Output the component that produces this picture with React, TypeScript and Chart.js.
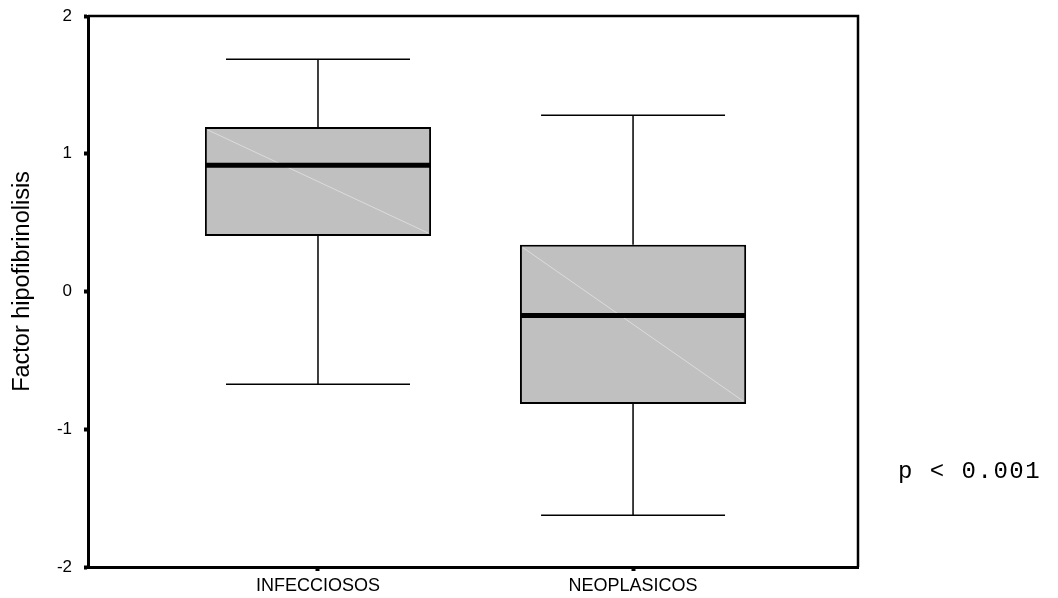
import React, { useEffect, useRef } from 'react';
import { Chart, registerables } from 'chart.js';

Chart.register(...registerables);

const categories = ['INFECCIOSOS', 'NEOPLASICOS'];
const categoryPositions = [1, 2];
const whiskerLow = [-0.674, -1.625];
const q1 = [0.403, -0.817];
const median = [0.916, -0.175];
const q3 = [1.194, 0.34];
const whiskerHigh = [1.686, 1.279];
const yTicks = [-2, -1, 0, 1, 2];
const yTitle = 'Factor hipofibrinolisis';
const pValueText = 'p < 0.001';

const SANS = '"Liberation Sans", Arial, sans-serif';
const MONO = '"Liberation Mono", "Courier New", monospace';

const boxPlugin = {
  id: 'boxParts',
  afterDatasetsDraw(chart: any) {
    const { ctx, scales } = chart;
    const x = scales.x;
    const y = scales.y;
    const meta = chart.getDatasetMeta(0);
    const capHalf = (x.getPixelForValue(2) - x.getPixelForValue(1)) * 0.584 / 2;
    ctx.save();
    meta.data.forEach((bar: any, i: number) => {
      const props = bar.getProps(['x', 'width'], true);
      const cx = props.x;
      const left = cx - props.width / 2;
      const right = cx + props.width / 2;
      const top = y.getPixelForValue(q3[i]);
      const bottom = y.getPixelForValue(q1[i]);
      // faint diagonal artefact
      ctx.strokeStyle = '#dcdcdc';
      ctx.lineWidth = 1;
      ctx.beginPath();
      ctx.moveTo(left + 3, top + 3);
      ctx.lineTo(right - 3, bottom - 3);
      ctx.stroke();
      // median
      const my = y.getPixelForValue(median[i]);
      ctx.strokeStyle = '#000';
      ctx.lineWidth = 5;
      ctx.beginPath();
      ctx.moveTo(left + 1, my);
      ctx.lineTo(right - 1, my);
      ctx.stroke();
      // whiskers
      const hi = y.getPixelForValue(whiskerHigh[i]);
      const lo = y.getPixelForValue(whiskerLow[i]);
      ctx.lineWidth = 1.5;
      ctx.beginPath();
      ctx.moveTo(cx, top);
      ctx.lineTo(cx, hi);
      ctx.moveTo(cx - capHalf, hi);
      ctx.lineTo(cx + capHalf, hi);
      ctx.moveTo(cx, bottom);
      ctx.lineTo(cx, lo);
      ctx.moveTo(cx - capHalf, lo);
      ctx.lineTo(cx + capHalf, lo);
      ctx.stroke();
    });
    ctx.restore();
  },
  afterDraw(chart: any) {
    const { ctx, chartArea } = chart;
    ctx.save();
    // top and right frame
    ctx.strokeStyle = '#000';
    ctx.lineWidth = 2.5;
    ctx.beginPath();
    ctx.moveTo(chartArea.left, chartArea.top);
    ctx.lineTo(chartArea.right, chartArea.top);
    ctx.lineTo(chartArea.right, chartArea.bottom);
    ctx.stroke();
    // y title
    ctx.fillStyle = '#000';
    ctx.font = '23.5px ' + SANS;
    ctx.textAlign = 'center';
    ctx.textBaseline = 'middle';
    ctx.translate(23, (chartArea.top + chartArea.bottom) / 2 - 10);
    ctx.rotate(-Math.PI / 2);
    ctx.fillText(yTitle, 0, 0);
    ctx.restore();
    // p-value annotation
    ctx.save();
    ctx.fillStyle = '#000';
    ctx.font = '24px ' + MONO;
    (ctx as any).letterSpacing = '1.5px';
    ctx.textAlign = 'left';
    ctx.textBaseline = 'alphabetic';
    ctx.fillText(pValueText, chartArea.right + 40, 478);
    ctx.restore();
  },
};

export default function App() {
  const canvasRef = useRef<HTMLCanvasElement | null>(null);

  useEffect(() => {
    const canvas = canvasRef.current;
    if (!canvas) return;
    const chart = new Chart(canvas, {
      type: 'bar',
      data: {
        datasets: [
          {
            data: categoryPositions.map((p, i) => ({ x: p, y: [q1[i], q3[i]] })) as any,
            backgroundColor: '#c0c0c0',
            borderColor: '#000',
            borderWidth: 2,
            borderSkipped: false,
            categoryPercentage: 1,
            barPercentage: 0.718,
          },
        ],
      },
      options: {
        animation: false,
        responsive: true,
        maintainAspectRatio: false,
        events: [],
        layout: { padding: { top: 16, right: 200, left: 0, bottom: 0 } },
        plugins: {
          legend: { display: false },
          tooltip: { enabled: false },
          title: { display: false },
        },
        scales: {
          x: {
            type: 'linear',
            offset: false,
            min: 0.27,
            max: 2.714,
            afterBuildTicks: (s: any) => {
              s.ticks = categoryPositions.map((v) => ({ value: v }));
            },
            afterFit: (s: any) => {
              s.height = 31;
              s.paddingLeft = 0;
              s.paddingRight = 0;
            },
            ticks: {
              autoSkip: false,
              maxRotation: 0,
              color: '#000',
              padding: 4,
              font: { family: SANS, size: 18 },
              callback: (v: any) => {
                const idx = categoryPositions.indexOf(Number(v));
                return idx >= 0 ? categories[idx] : '';
              },
            },
            grid: {
              offset: false,
              drawOnChartArea: false,
              drawTicks: true,
              tickLength: 4,
              tickWidth: 4,
              tickColor: '#000',
            },
            border: { display: true, color: '#000', width: 3 },
          },
          y: {
            type: 'linear',
            min: -2,
            max: 2,
            afterBuildTicks: (s: any) => {
              s.ticks = yTicks.map((v) => ({ value: v }));
            },
            afterFit: (s: any) => {
              s.width = 88;
              s.paddingTop = 0;
              s.paddingBottom = 0;
            },
            ticks: {
              color: '#000',
              padding: 12,
              font: { family: SANS, size: 17 },
              callback: (v: any) => String(v),
            },
            grid: {
              drawOnChartArea: false,
              drawTicks: true,
              tickLength: 4,
              tickWidth: 4,
              tickColor: '#000',
            },
            border: { display: true, color: '#000', width: 3 },
          },
        },
      },
      plugins: [boxPlugin],
    });
    return () => chart.destroy();
  }, []);

  return (
    <div style={{ position: 'absolute', left: 0, top: 0, width: 1058, height: 598, background: '#fff' }}>
      <canvas ref={canvasRef} />
    </div>
  );
}
